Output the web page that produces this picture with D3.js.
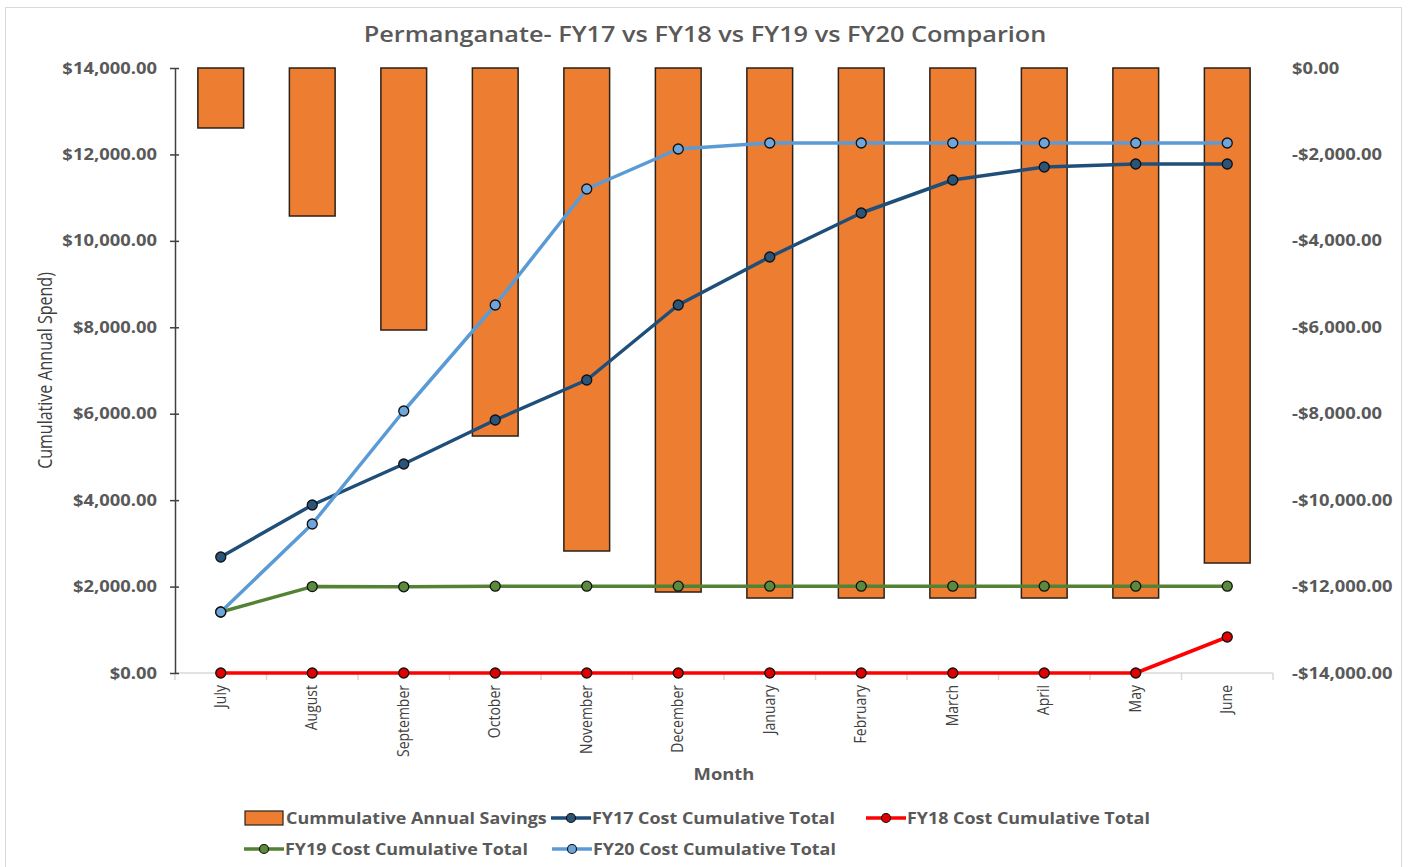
<!DOCTYPE html>
<html>
<head>
<meta charset="utf-8">
<script src="https://cdn.jsdelivr.net/npm/d3@7"></script>
<style>
  body { margin: 0; background: white; }
  text { font-family: "Open Sans", sans-serif; }
</style>
</head>
<body>
<svg id="chart" width="1409" height="867"></svg>
<script>
// values
var months = ["July", "August", "September", "October", "November", "December",
    "January", "February", "March", "April", "May", "June"];
var savings = [-1388, -3425, -6063, -8516, -11177, -12126, -12265, -12265, -12265, -12265, -12265, -11455];
var fy17 = [2684, 3888, 4836, 5855, 6780, 8516, 9627, 10645, 11408, 11709, 11779, 11779];
var fy18 = [0, 0, 0, 0, 0, 0, 0, 0, 0, 0, 0, 833];
var fy19 = [1411, 2000, 1995, 2010, 2010, 2010, 2010, 2010, 2010, 2010, 2010, 2010];
var fy20 = [1411, 3448, 6063, 8516, 11200, 12126, 12265, 12265, 12265, 12265, 12265, 12265];
var leftTicks = [0, 2000, 4000, 6000, 8000, 10000, 12000, 14000];
var rightTicks = [0, -2000, -4000, -6000, -8000, -10000, -12000, -14000];

var dimensions = {
    width: 1409,
    height: 867,
    margin: { top: 68, bottom: 194, left: 175, right: 136 }
}

// the original picture is stretched sideways a bit, so text gets widened too
var stretch = 1.15;

var svg = d3.select("#chart");

// chart border
svg.append("rect")
    .attr("x", 5.5).attr("y", 7.5)
    .attr("width", 1396).attr("height", 875)
    .attr("fill", "white")
    .attr("stroke", "#d9d9d9");

var plotBottom = dimensions.height - dimensions.margin.bottom;
var plotRight = dimensions.width - dimensions.margin.right;

var xScale = d3.scaleBand()
    .domain(months)
    .range([dimensions.margin.left, plotRight])
    .paddingInner(0.5)
    .paddingOuter(0.25);

var yLeft = d3.scaleLinear()
    .domain([0, 14000])
    .range([plotBottom, dimensions.margin.top]);

var yRight = d3.scaleLinear()
    .domain([-14000, 0])
    .range([plotBottom, dimensions.margin.top]);

var money = d3.format(",.2f");
function fmt(d) { return (d < 0 ? "-" : "") + "$" + money(Math.abs(d)); }

// title
svg.append("text")
    .attr("transform", `translate(705,42) scale(${stretch},1)`)
    .attr("text-anchor", "middle")
    .style("font-size", "22px")
    .style("font-weight", 600)
    .style("fill", "#595959")
    .text("Permanganate- FY17 vs FY18 vs FY19 vs FY20 Comparion");

// x-axis baseline + ticks between categories
var xAxis = svg.append("g")
    .attr("transform", `translate(0,${plotBottom})`);
xAxis.append("line")
    .attr("x1", dimensions.margin.left).attr("x2", plotRight)
    .attr("stroke", "#d9d9d9").attr("stroke-width", 1.5);
var step = xScale.step();
xAxis.selectAll(".xtick")
    .data(d3.range(months.length + 1))
    .enter()
    .append("line")
    .attr("x1", i => dimensions.margin.left + i * step)
    .attr("x2", i => dimensions.margin.left + i * step)
    .attr("y1", 0).attr("y2", 7)
    .attr("stroke", "#d9d9d9").attr("stroke-width", 1.5);
xAxis.selectAll(".xlabel")
    .data(months)
    .enter()
    .append("text")
    .attr("transform", d => `translate(${xScale(d) + xScale.bandwidth() / 2 + 5},12) rotate(-90) scale(1,${stretch})`)
    .attr("text-anchor", "end")
    .style("font-size", "14px")
    .style("fill", "#404040")
    .text(d => d);

svg.append("text")
    .attr("transform", `translate(724,780) scale(${stretch},1)`)
    .attr("text-anchor", "middle")
    .style("font-size", "16px")
    .style("font-weight", 700)
    .style("fill", "#595959")
    .text("Month");

// left axis
var leftAxis = svg.append("g")
    .attr("transform", `translate(${dimensions.margin.left},0)`)
    .call(d3.axisLeft(yLeft).tickValues(leftTicks).tickFormat(fmt).tickSize(5).tickSizeOuter(0));
leftAxis.select(".domain").attr("stroke", "#404040").attr("stroke-width", 1.5);
leftAxis.selectAll(".tick line").attr("x1", 4).attr("stroke", "#404040").attr("stroke-width", 1.5);
leftAxis.selectAll(".tick text")
    .attr("x", null)
    .attr("transform", `translate(-18,0) scale(${stretch},1)`)
    .style("font-family", "Open Sans")
    .style("font-size", "16px")
    .style("font-weight", 700)
    .style("fill", "#595959");

svg.append("text")
    .attr("transform", `translate(52,${(plotBottom + dimensions.margin.top) / 2}) rotate(-90) scale(1,1.3)`)
    .attr("text-anchor", "middle")
    .style("font-size", "16px")
    .style("fill", "#404040")
    .text("Cumulative Annual Spend)");

// right axis (labels only)
var rightAxis = svg.append("g")
    .attr("transform", `translate(${plotRight},0)`)
    .call(d3.axisRight(yRight).tickValues(rightTicks).tickFormat(fmt).tickSize(0));
rightAxis.select(".domain").remove();
rightAxis.selectAll(".tick text")
    .attr("x", null)
    .attr("transform", `translate(19,0) scale(${stretch},1)`)
    .style("font-family", "Open Sans")
    .style("font-size", "16px")
    .style("font-weight", 700)
    .style("fill", "#595959");

// bars on the right axis
var barColor = "#ED7D31";
svg.selectAll(".bar")
    .data(savings)
    .enter()
    .append("rect")
    .attr("class", "bar")
    .attr("x", (d, i) => xScale(months[i]))
    .attr("width", xScale.bandwidth())
    .attr("y", yRight(0))
    .attr("height", d => yRight(d) - yRight(0))
    .attr("fill", barColor)
    .attr("stroke", "#2b2118")
    .attr("stroke-width", 1.5);

// lines on the left axis
var series = [
    { name: "FY17 Cost Cumulative Total", values: fy17, color: "#1F4E79", marker: "#2a5478" },
    { name: "FY18 Cost Cumulative Total", values: fy18, color: "#FF0000", marker: "#e00000" },
    { name: "FY19 Cost Cumulative Total", values: fy19, color: "#548235", marker: "#5a8a3c" },
    { name: "FY20 Cost Cumulative Total", values: fy20, color: "#5B9BD5", marker: "#6ea6db" }
];

var line = d3.line()
    .x((d, i) => xScale(months[i]) + xScale.bandwidth() / 2)
    .y(d => yLeft(d));

series.forEach(s => {
    svg.append("path")
        .attr("d", line(s.values))
        .attr("fill", "none")
        .attr("stroke", s.color)
        .attr("stroke-width", 3.5)
        .attr("stroke-linejoin", "round");
    svg.selectAll(null)
        .data(s.values)
        .enter()
        .append("circle")
        .attr("cx", (d, i) => xScale(months[i]) + xScale.bandwidth() / 2)
        .attr("cy", d => yLeft(d))
        .attr("r", 5)
        .attr("fill", s.marker)
        .attr("stroke", "#111")
        .attr("stroke-width", 1.3);
});

// legend
var legendItems = [
    { name: "Cummulative Annual Savings", bar: true, x: 245, y: 818 },
    { name: series[0].name, s: series[0], x: 551, y: 818 },
    { name: series[1].name, s: series[1], x: 866, y: 818 },
    { name: series[2].name, s: series[2], x: 244, y: 849 },
    { name: series[3].name, s: series[3], x: 552, y: 849 }
];

var legend = svg.selectAll(".legend")
    .data(legendItems)
    .enter()
    .append("g")
    .attr("class", "legend")
    .attr("transform", d => `translate(${d.x},${d.y})`);

legend.filter(d => d.bar).append("rect")
    .attr("x", 0).attr("y", -7)
    .attr("width", 38).attr("height", 14)
    .attr("fill", barColor)
    .attr("stroke", "#2b2118")
    .attr("stroke-width", 1.2);

legend.filter(d => !d.bar).append("line")
    .attr("x1", 0).attr("x2", 40)
    .attr("stroke", d => d.s.color)
    .attr("stroke-width", 3.5);

legend.filter(d => !d.bar).append("circle")
    .attr("cx", 20).attr("r", 4.5)
    .attr("fill", d => d.s.marker)
    .attr("stroke", "#111")
    .attr("stroke-width", 1.2);

legend.append("text")
    .attr("transform", "translate(41,0) scale(1.12,1)")
    .attr("dy", "0.35em")
    .style("font-size", "16px")
    .style("font-weight", 700)
    .style("fill", "#595959")
    .text(d => d.name);
</script>
</body>
</html>
